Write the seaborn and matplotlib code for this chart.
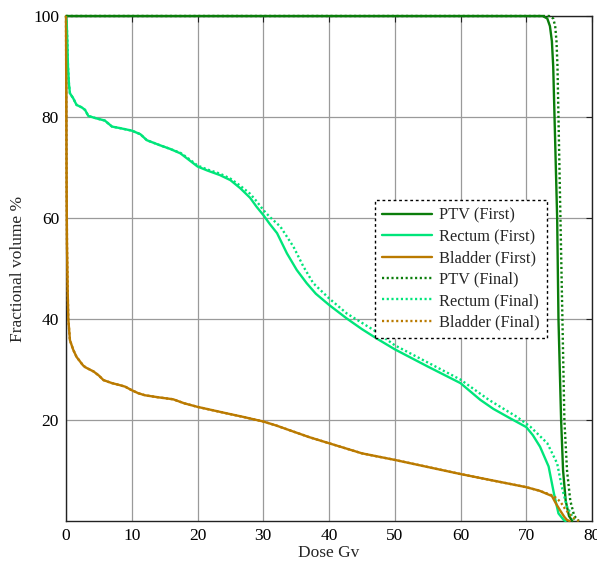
import numpy as np
import pandas as pd
import matplotlib
matplotlib.use("Agg")
import matplotlib.pyplot as plt
import seaborn as sns

# ---- data ----
ptv_first_x = [0, 72.5, 73.2, 73.6, 73.9, 74.1, 74.3, 74.7, 74.9, 75.3, 75.6, 76.0, 76.5, 77.0]
ptv_first_y = [100, 100, 99.5, 98, 95, 90, 80, 60, 40, 20, 10, 4, 1, 0]

ptv_final_x = [0, 73.5, 74.1, 74.4, 74.6, 74.75, 74.9, 75.2, 75.5, 75.8, 76.2, 76.7, 77.3, 78.0]
ptv_final_y = [100, 100, 99.5, 98, 95, 90, 80, 60, 40, 20, 10, 4, 1, 0]

rectum_first_x = [0, 0.1, 0.2, 0.3, 0.45, 0.6, 1.1, 1.6, 2.4, 2.9, 3.4, 4.7, 5.9, 7.0, 8.2, 10,
                  11.3, 12.3, 14.3, 15.8, 17.4, 18.4, 20, 21.5, 23.4, 25, 26.5, 28, 29, 30, 31,
                  32.1, 33.6, 35.1, 36.6, 38, 40, 42.7, 45, 47.3, 50, 55, 60, 63, 65, 67.6, 70,
                  71, 72.1, 73.4, 74.2, 74.9, 75.7, 76.0]
rectum_first_y = [100, 99, 95, 90, 86.5, 84.7, 83.7, 82.4, 81.9, 81.4, 80.2, 79.7, 79.3, 78.1, 77.8, 77.3,
                  76.6, 75.4, 74.4, 73.7, 72.8, 71.8, 70.2, 69.4, 68.5, 67.5, 65.9, 64.0, 62.2, 60.6, 58.8,
                  57.0, 53.0, 49.7, 47.1, 45.0, 42.8, 40.1, 38.0, 36.1, 34.0, 30.6, 27.3, 24.0, 22.2, 20.3, 18.6,
                  17.0, 14.7, 10.8, 5.5, 1.5, 0.2, 0]

rectum_final_x = [0, 0.1, 0.2, 0.3, 0.45, 0.6, 1.1, 1.6, 2.4, 2.9, 3.4, 4.7, 5.9, 7.0, 8.2, 10,
                  11.3, 12.3, 14.3, 15.8, 17.4, 18.4, 20, 21.5, 23.4, 25, 26.5, 28, 29, 30, 31,
                  32.6, 34.6, 36.1, 37.6, 40, 42.7, 46.8, 50, 55, 60, 64.3, 68.6, 70.6, 73.2,
                  74.7, 75.4, 76.2, 77.2, 77.6]
rectum_final_y = [100, 99, 95, 90, 86.5, 84.7, 83.7, 82.4, 81.9, 81.4, 80.2, 79.7, 79.3, 78.1, 77.8, 77.3,
                  76.6, 75.4, 74.4, 73.7, 72.9, 72.0, 70.4, 69.6, 68.8, 67.8, 66.4, 64.8, 63.3, 61.6, 60.2,
                  58.3, 54.3, 50.4, 47.1, 44.1, 41.1, 37.8, 34.8, 31.4, 28.0, 24.0, 20.6, 18.7, 15.4,
                  11.4, 6.8, 2.8, 0.5, 0]

bladder_first_x = [0, 0.05, 0.1, 0.15, 0.25, 0.35, 0.6, 1.1, 1.6, 2.6, 3.0, 4.2, 5.0, 5.7, 7.0, 8.2,
                   9.0, 10, 11, 12, 14, 16.3, 18, 20, 24.5, 27, 30, 32, 34.6, 37, 40, 42, 45, 50, 55,
                   60, 65, 70, 72, 73.9, 74.5, 75.2, 75.8, 76.2, 76.6]
bladder_first_y = [100, 80, 65, 55, 46, 40, 35.8, 33.9, 32.5, 30.8, 30.4, 29.6, 28.8, 27.9, 27.3, 26.9,
                   26.6, 25.9, 25.3, 24.9, 24.5, 24.1, 23.3, 22.6, 21.3, 20.6, 19.7, 18.9, 17.7, 16.6, 15.4,
                   14.6, 13.4, 12.1, 10.7, 9.3, 8.0, 6.7, 6.0, 4.95, 3.5, 2.0, 0.8, 0.2, 0]

bladder_final_x = [0, 0.05, 0.1, 0.15, 0.25, 0.35, 0.6, 1.1, 1.6, 2.6, 3.0, 4.2, 5.0, 5.7, 7.0, 8.2,
                   9.0, 10, 11, 12, 14, 16.3, 18, 20, 24.5, 27, 30, 32, 34.6, 37, 40, 42, 45, 50, 55,
                   60, 65, 70, 72, 74.1, 74.7, 75.2, 76.0, 76.7, 77.4, 78.0]
bladder_final_y = [100, 80, 65, 55, 46, 40, 35.8, 33.9, 32.5, 30.8, 30.4, 29.6, 28.8, 27.9, 27.3, 26.9,
                   26.6, 25.9, 25.3, 24.9, 24.5, 24.1, 23.3, 22.6, 21.3, 20.6, 19.7, 18.9, 17.7, 16.6, 15.4,
                   14.6, 13.4, 12.1, 10.7, 9.3, 8.0, 6.7, 6.0, 5.0, 4.4, 3.8, 2.2, 1.2, 0.4, 0]

x_ticks = [0, 10, 20, 30, 40, 50, 60, 70, 80]
y_ticks = [20, 40, 60, 80, 100]

series = [
    ("PTV (First)", ptv_first_x, ptv_first_y, "#0B7D0B", "-"),
    ("Rectum (First)", rectum_first_x, rectum_first_y, "#00E57A", "-"),
    ("Bladder (First)", bladder_first_x, bladder_first_y, "#BA7A00", "-"),
    ("PTV (Final)", ptv_final_x, ptv_final_y, "#0B7D0B", ":"),
    ("Rectum (Final)", rectum_final_x, rectum_final_y, "#00E57A", ":"),
    ("Bladder (Final)", bladder_final_x, bladder_final_y, "#BA7A00", ":"),
]

# ---- style ----
sns.set_style("white")
plt.rcParams["font.family"] = ["Liberation Serif", "DejaVu Serif"]

fig = plt.figure(figsize=(5.97, 5.62), dpi=100)
ax = fig.add_axes([66 / 597, 41 / 562, 526 / 597, 505 / 562])

for name, xs, ys, col, ls in series:
    df = pd.DataFrame({"Dose": xs, "Volume": ys})
    dash = (0, (0.9, 1.1)) if ls == ":" else "-"
    sns.lineplot(data=df, x="Dose", y="Volume", ax=ax, color=col, linestyle=dash,
                 linewidth=1.7, estimator=None, sort=False, label=name, clip_on=False, zorder=3)

ax.set_xlim(0, 80)
ax.set_ylim(0, 100)
ax.set_xticks(x_ticks)
ax.set_yticks(y_ticks)
ax.set_xticklabels([str(t) for t in x_ticks])
ax.set_yticklabels([str(t) for t in y_ticks])
ax.grid(True, color="#9a9a9a", linewidth=0.9, linestyle="-")
ax.set_axisbelow(True)
for s in ax.spines.values():
    s.set_visible(True)
    s.set_color("#222222")
    s.set_linewidth(1.0)
ax.tick_params(direction="in", length=4, width=0.8, top=True, right=True,
               labelsize=12.5, colors="#222222", labelcolor="black", pad=5)
ax.set_xlabel("Dose Gv", fontsize=12.5, labelpad=1)
ax.set_ylabel("Fractional volume %", fontsize=12.5, labelpad=5)

leg = ax.legend(loc="center", bbox_to_anchor=(0.751, 0.499), fontsize=11.8, frameon=True,
                fancybox=False, edgecolor="black", handlelength=3.0, labelspacing=0.33,
                borderpad=0.45, handletextpad=0.45, borderaxespad=0)
leg.get_frame().set_linestyle((0, (2, 2)))
leg.get_frame().set_linewidth(1.0)
leg.get_frame().set_facecolor("white")
leg.get_frame().set_alpha(1)

fig.savefig("out.png", dpi=100)
